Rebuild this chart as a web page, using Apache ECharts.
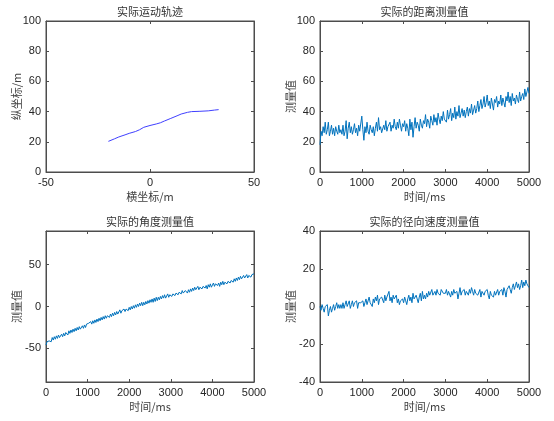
<!DOCTYPE html>
<html><head><meta charset="utf-8">
<script src="https://cdn.jsdelivr.net/npm/echarts@6/dist/echarts.min.js"></script>
<style>html,body{margin:0;padding:0;background:#fff}#c{width:554px;height:421px}</style>
</head><body><div id="c"></div>
<script>
// 实际运动轨迹
const trajX = [-20, -17, -15, -12, -10, -7, -5, -3, 0, 3, 5, 7, 10, 13, 15, 18, 20, 24, 28, 31, 33];
const trajY = [20.3, 22, 23.2, 24.6, 25.6, 26.8, 28, 29.6, 30.8, 31.8, 32.6, 33.8, 35.5, 37.2, 38.4, 39.5, 40, 40.2, 40.5, 41, 41.3];

// sample step of the time axis (ms)
const stepMs = 25;

// 实际的距离测量值
const rangeVals = [
18, 27, 24, 30, 26, 33, 25, 28, 33, 24, 27, 31, 25, 29, 24, 30, 27, 25, 31, 26,
28, 25, 31, 24, 27, 34, 22, 29, 33, 26, 30, 25, 28, 32, 26, 29, 24, 31, 27, 26,
37, 28, 21, 30, 26, 33, 27, 25, 31, 28, 26, 30, 24, 29, 33, 27, 36, 28, 30, 26,
25, 31, 28, 34, 27, 30, 29, 33, 27, 31, 29, 35, 30, 28, 33, 29, 35, 31, 27, 32,
30, 34, 27, 32, 29, 24, 35, 28, 33, 23, 30, 36, 29, 33, 31, 27, 35, 31, 29, 34,
32, 38, 30, 35, 33, 29, 37, 34, 31, 38, 33, 36, 31, 39, 35, 32, 37, 34, 40, 35,
36, 33, 41, 35, 38, 42, 34, 39, 36, 43, 35, 40, 37, 44, 36, 39, 42, 37, 41, 36,
40, 43, 37, 42, 39, 45, 38, 41, 44, 39, 42, 47, 40, 44, 48, 42, 45, 50, 43, 46,
51, 44, 47, 42, 49, 45, 41, 48, 46, 50, 43, 47, 45, 51, 44, 49, 46, 43, 50, 47,
53, 46, 50, 44, 52, 47, 49, 45, 51, 48, 46, 53, 47, 50, 52, 48, 55, 50, 53, 56,
52];

// 实际的角度测量值
const angleVals = [
-46, -42, -44, -41, -40, -42, -37, -40, -36, -39, -35, -38, -34, -37, -36, -33, -36, -32, -35, -31,
-30, -34, -29, -32, -28, -31, -27, -30, -26, -29, -25, -28, -24, -27, -25, -23, -26, -22, -25, -21,
-23, -20, -22, -18, -21, -17, -20, -16, -19, -15, -18, -14, -17, -13, -16, -12, -15, -11, -14, -11,
-10, -13, -9, -12, -8, -11, -7, -10, -6, -9, -7, -4, -8, -5, -6, -3, -6, -3, -2, -5,
-1, -4, 0, -3, 1, -2, 2, -1, 3, 0, 4, 1, 5, 1, 5, 2, 6, 3, 7, 4,
8, 5, 9, 5, 10, 6, 11, 7, 11, 8, 12, 9, 13, 10, 14, 10, 12, 15, 11, 14,
16, 12, 15, 17, 13, 16, 18, 14, 17, 16, 15, 19, 16, 15, 19, 20, 16, 20, 17, 21,
18, 22, 19, 23, 20, 19, 24, 20, 23, 25, 21, 24, 26, 22, 25, 21, 26, 23, 27, 23,
24, 28, 24, 27, 29, 25, 28, 24, 29, 26, 30, 26, 29, 31, 27, 30, 32, 28, 31, 33,
29, 33, 30, 34, 31, 35, 32, 36, 33, 32, 37, 34, 33, 38, 34, 37, 39, 35, 38, 37,
39];

// 实际的径向速度测量值
const velVals = [
0, -2, 1, -1, -3, 0, -1, 1, -5, -2, 0, -3, -1, 1, -2, 0, 2, -1, 1, -1,
1, -1, 2, -1, 1, 3, 0, 1, 3, -1, 1, 3, 0, 2, 1, 3, -1, 2, 1, 2,
1, 3, 0, 2, 4, 1, 2, 5, 2, 3, 0, 4, 2, 5, 3, 6, 1, 4, 3, 5,
4, 2, 6, 3, 5, 4, 8, 3, 5, 2, 6, 4, 3, 6, 2, 4, 1, 3, 2, 4,
2, 5, 3, 1, 4, 6, 3, 5, 2, 7, 4, 3, 6, 4, 2, 5, 7, 3, 8, 4,
6, 4, 7, 5, 8, 6, 5, 9, 6, 7, 8, 6, 9, 7, 8, 6, 9, 8, 7, 8,
7, 9, 6, 8, 7, 5, 8, 6, 9, 7, 6, 8, 4, 7, 10, 6, 8, 7, 9, 6,
8, 7, 6, 9, 7, 10, 8, 6, 9, 7, 8, 6, 7, 9, 5, 8, 7, 6, 8, 7,
9, 6, 4, 8, 6, 7, 5, 8, 6, 7, 9, 6, 8, 7, 9, 6, 10, 8, 5, 9,
8, 11, 9, 7, 10, 12, 9, 11, 13, 10, 12, 9, 11, 14, 10, 13, 11, 14, 12, 13,
10];

const titles = ['实际运动轨迹', '实际的距离测量值', '实际的角度测量值', '实际的径向速度测量值'];
const xNames = ['横坐标/m', '时间/ms', '时间/ms', '时间/ms'];
const yNames = ['纵坐标/m', '测量值', '测量值', '测量值'];

const CJK = '"Noto Sans CJK SC", "Noto Sans", sans-serif';
const NUM = '"Liberation Sans", Arial, sans-serif';
const axisCol = '#4d4d4d';
const textCol = '#262626';
const lineBlue = '#0072BD';

const grids = [
  {left: 46, top: 21, width: 208, height: 151},
  {left: 320, top: 21, width: 209, height: 151},
  {left: 46, top: 231, width: 208, height: 151},
  {left: 320, top: 231, width: 209, height: 151}
];
const xRanges = [{min: -50, max: 50, interval: 50}, {min: 0, max: 5000, interval: 1000}, {min: 0, max: 5000, interval: 1000}, {min: 0, max: 5000, interval: 1000}];
const yRanges = [
  {min: 0, max: 100, interval: 20},
  {min: 0, max: 100, interval: 20},
  {min: -90, max: 90, ticks: [-50, 0, 50]},
  {min: -40, max: 40, interval: 20}
];

function toPairs(vals) { return vals.map((v, i) => [i * stepMs, v]); }
const plain = v => String(v);

const xAxis = [], yAxis = [], title = [];
grids.forEach((g, i) => {
  const xr = xRanges[i], yr = yRanges[i];
  const baseX = {
    gridIndex: i, type: 'value', min: xr.min, max: xr.max, interval: xr.interval,
    splitLine: {show: false},
    axisLine: {show: true, onZero: false, lineStyle: {color: axisCol, width: 1}},
    axisTick: {show: true, inside: true, length: 3, lineStyle: {color: axisCol}}
  };
  xAxis.push(Object.assign({}, baseX, {
    position: 'bottom', name: xNames[i], nameLocation: 'middle', nameGap: 19, nameMoveOverlap: false,
    nameTextStyle: {fontFamily: CJK, fontSize: 11, color: '#404040'},
    axisLabel: {fontFamily: NUM, fontSize: 11, color: textCol, margin: 5, formatter: plain}
  }));
  xAxis.push(Object.assign({}, baseX, {position: 'top', axisLabel: {show: false}}));

  const baseY = {
    gridIndex: i, type: 'value', min: yr.min, max: yr.max,
    splitLine: {show: false},
    axisLine: {show: true, onZero: false, lineStyle: {color: axisCol, width: 1}},
    axisTick: {show: true, inside: true, length: 3, lineStyle: {color: axisCol}}
  };
  if (yr.interval) baseY.interval = yr.interval;
  if (yr.ticks) {
    baseY.axisTick = Object.assign({}, baseY.axisTick, {customValues: yr.ticks});
  }
  const yLabel = {fontFamily: NUM, fontSize: 11, color: textCol, margin: 5, formatter: plain};
  if (yr.ticks) yLabel.customValues = yr.ticks;
  yAxis.push(Object.assign({}, baseY, {
    position: 'left', name: yNames[i], nameLocation: 'middle', nameGap: 23.5, nameMoveOverlap: false,
    nameTextStyle: {fontFamily: CJK, fontSize: 11, color: '#404040'},
    axisLabel: yLabel
  }));
  yAxis.push(Object.assign({}, baseY, {position: 'right', axisLabel: {show: false}}));

  title.push({
    text: titles[i], left: g.left + g.width / 2, top: i < 2 ? 6 : 216, textAlign: 'center', padding: 0,
    textStyle: {fontFamily: CJK, fontSize: 11, fontWeight: 'normal', color: '#333'}
  });
});

const lineSeries = (xi, vals) => ({
  type: 'line', xAxisIndex: xi * 2, yAxisIndex: xi * 2, data: toPairs(vals),
  showSymbol: false, symbol: 'none', animation: false,
  lineStyle: {color: lineBlue, width: 1}
});

const option = {
  animation: false,
  title,
  grid: grids.map(g => Object.assign({show: true, borderColor: axisCol, borderWidth: 1, backgroundColor: '#fff'}, g)),
  xAxis, yAxis,
  series: [
    {
      type: 'line', xAxisIndex: 0, yAxisIndex: 0,
      data: trajX.map((x, i) => [x, trajY[i]]),
      showSymbol: false, symbol: 'none', smooth: false,
      lineStyle: {color: '#4040ff', width: 1}
    },
    lineSeries(1, rangeVals),
    lineSeries(2, angleVals),
    lineSeries(3, velVals)
  ]
};

const chart = echarts.init(document.getElementById('c'), null, {renderer: 'canvas'});
chart.setOption(option);
</script>
</body></html>
